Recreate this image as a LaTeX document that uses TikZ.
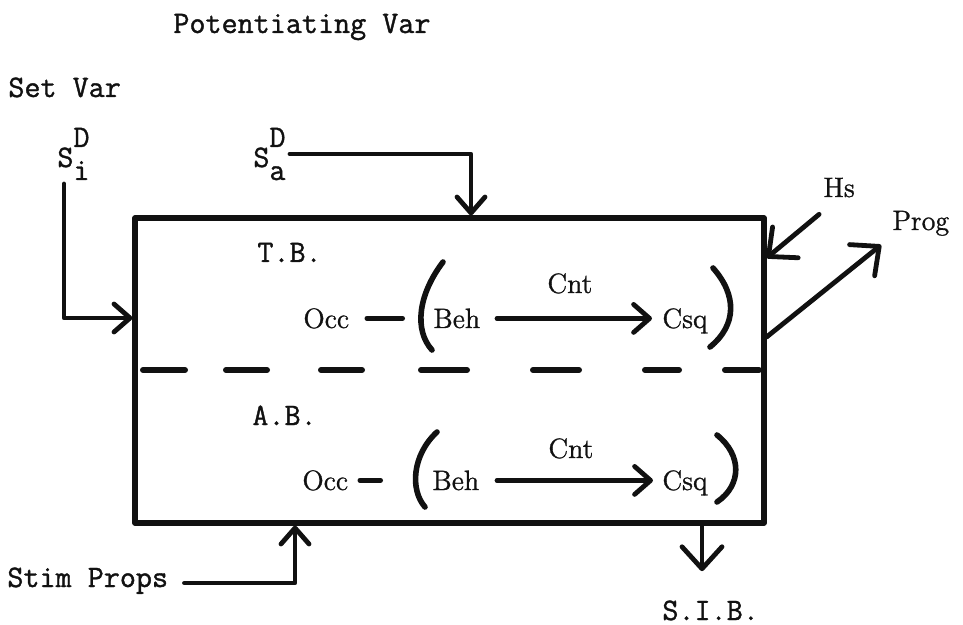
\documentclass[tikz,border=0pt]{standalone}
\usepackage{fontspec}
\usetikzlibrary{arrows.meta}
\definecolor{Ink}{HTML}{111111}
\newfontfamily\typer{Latin Modern Mono}[FakeBold=1.2]
\newfontfamily\plainwd{Latin Modern Roman}[FakeBold=1.0]

\begin{document}
\begin{tikzpicture}[x=0.5pt, y=-0.5pt,
    mono/.style={Ink, font=\fontsize{15.6}{18}\selectfont\typer, inner sep=0pt, anchor=base west},
    word/.style={Ink, font=\fontsize{14}{16}\selectfont\plainwd, inner sep=0pt, anchor=base west},
    link/.style={Ink, line width=2.4pt, line cap=round, line join=round},
    tip/.style={-{Straight Barb[length=8pt, width=14pt, round]}},
    bigtip/.style={-{Straight Barb[length=11pt, width=20pt, round]}}]

    \useasboundingbox (0,0) rectangle (963,625);

    % Box
    \node[link, draw=Ink, line width=2.6pt, minimum width=314.5pt, minimum height=152.5pt, inner sep=0pt] (box) at (449.5,370.5) {};

    % Divider
    \foreach \a/\b in {143/185, 226/267, 321/362, 421/467, 533/579, 645/679, 725/759} {
        \draw[link, line width=3pt] (\a,370) -- (\b,370);
    }

    % Labels
    \node[mono] (pot) at (173,33) {Potentiating Var};
    \node[mono] (set) at (8,97) {Set Var};
    \node[mono] (si) at (57,167) {S\rlap{\raisebox{10pt}{D}}\raisebox{-6.5pt}{i}};
    \node[mono] (sa) at (253,167) {S\rlap{\raisebox{10pt}{D}}\raisebox{-6.5pt}{a}};
    \node[mono] (tb) at (257,262) {T.B.};
    \node[mono] (ab) at (252,425) {A.B.};
    \node[mono] (stim) at (7,587) {Stim Props};
    \node[mono] (sib) at (662,620) {S.I.B.};
    \node[word] (hs) at (823,197) {Hs};
    \node[word] (prog) at (892,230) {Prog};

    % T.B. row
    \node[word] (occT) at (303,328) {Occ};
    \node[word] (behT) at (433,328) {Beh};
    \node[word] (cntT) at (547,293) {Cnt};
    \node[word] (csqT) at (662,328) {Csq};

    % A.B. row
    \node[word] (occB) at (302,490) {Occ};
    \node[word] (behB) at (432,490) {Beh};
    \node[word] (cntB) at (548,458) {Cnt};
    \node[word] (csqB) at (662,490) {Csq};

    % Parentheses
    \draw[link, line width=2.8pt] (443,262) .. controls (418,295) and (414,330) .. (432,350);
    \draw[link, line width=2.8pt] (713,268) .. controls (737,295) and (737,325) .. (710,347);
    \draw[link, line width=2.8pt] (437,432) .. controls (412,455) and (410,490) .. (425,507);
    \draw[link, line width=2.8pt] (717,435) .. controls (742,455) and (742,485) .. (717,502);

    % Rows
    \draw[link, shorten <=8.7pt, shorten >=15.2pt] (occT.east) -- (occT.east -| behT.west);
    \draw[link, tip, shorten <=8.2pt, shorten >=5pt] (behT.east) -- (behT.east -| csqT.west);
    \draw[link, shorten <=5.7pt, shorten >=25.7pt] (occB.east) -- (occB.east -| behB.west);
    \draw[link, tip, shorten <=8.7pt, shorten >=4.5pt] (behB.east) -- (behB.east -| csqB.west);

    % Inputs
    \coordinate (siTop) at (64,184);
    \coordinate (siTurn) at (64,318);
    \draw[link, tip] (siTop) -- (siTurn) -- (siTurn -| box.west);

    \coordinate (saTurn) at (471,154);
    \draw[link, tip, shorten <=2pt] (sa.east |- saTurn) -- (saTurn) -- (saTurn |- box.north);

    \coordinate (stimTurn) at (295,583);
    \draw[link, tip, shorten <=8pt] (stim.east |- stimTurn) -- (stimTurn) -- (stimTurn |- box.south);

    \coordinate (hsIn) at (763,258);
    \draw[link, bigtip, shorten <=13pt] (hs.south) -- (box.east |- hsIn);

    % Outputs
    \coordinate (progOut) at (763,337);
    \draw[link, bigtip, shorten >=7pt] (box.east |- progOut) -- (prog.south west);

    \coordinate (sibX) at (702,560);
    \draw[link, bigtip, shorten >=14.5pt] (box.south -| sibX) -- (sib.north -| sibX);

\end{tikzpicture}
\end{document}
